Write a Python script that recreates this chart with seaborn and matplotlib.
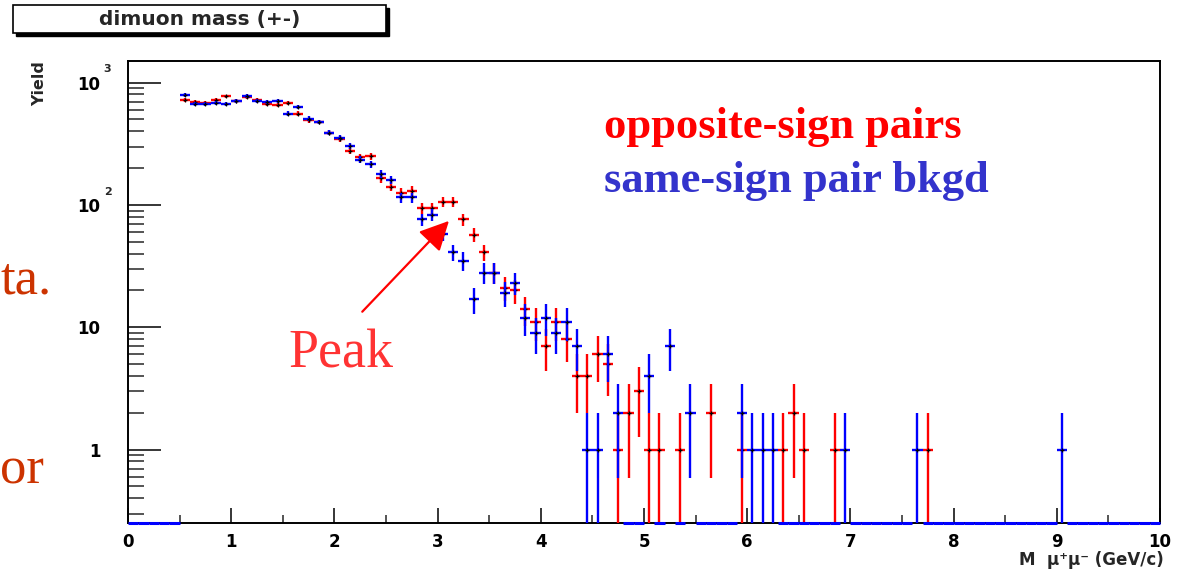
import numpy as np
import pandas as pd
import matplotlib
matplotlib.use("Agg")
import matplotlib.pyplot as plt
import seaborn as sns
from matplotlib.patches import Rectangle
from matplotlib.ticker import FixedLocator, LogLocator, NullFormatter, MultipleLocator

# ---------------- data ----------------
os_mass = [0.55, 0.65, 0.75, 0.85, 0.95, 1.05, 1.15, 1.25, 1.35, 1.45,
           1.55, 1.65, 1.75, 1.85, 1.95, 2.05, 2.15, 2.25, 2.35, 2.45,
           2.55, 2.65, 2.75, 2.85, 2.95, 3.05, 3.15, 3.25, 3.35, 3.45,
           3.55, 3.65, 3.75, 3.85, 3.95, 4.05, 4.15, 4.25, 4.35, 4.45,
           4.55, 4.65, 4.75, 4.85, 4.95, 5.05, 5.15, 5.35, 5.65, 5.95,
           6.35, 6.45, 6.55, 6.85, 7.75]
os_count = [726, 700, 680, 720, 770, 705, 760, 725, 673, 651,
            680, 557, 492, 476, 390, 348, 276, 247, 250, 165,
            141, 126, 130, 94, 94, 106, 106, 76, 57, 41,
            28, 21, 20, 14, 11, 7, 11, 8, 4, 4,
            6, 5, 1, 2, 3, 1, 1, 1, 2, 1,
            1, 2, 1, 1, 1]

ss_mass = [0.55, 0.65, 0.75, 0.85, 0.95, 1.05, 1.15, 1.25, 1.35, 1.45,
           1.55, 1.65, 1.75, 1.85, 1.95, 2.05, 2.15, 2.25, 2.35, 2.45,
           2.55, 2.65, 2.75, 2.85, 2.95, 3.05, 3.15, 3.25, 3.35, 3.45,
           3.55, 3.65, 3.75, 3.85, 3.95, 4.05, 4.15, 4.25, 4.35, 4.45,
           4.55, 4.65, 4.75, 5.05, 5.25, 5.45, 5.95, 6.05, 6.15, 6.25,
           6.95, 7.65, 9.05]
ss_count = [787, 673, 673, 680, 673, 703, 772, 706, 690, 703,
            557, 631, 507, 476, 390, 355, 305, 235, 215, 178,
            161, 115, 115, 76, 83, 58, 41, 35, 17, 28,
            28, 19, 23, 12, 9, 12, 9, 11, 7, 1,
            1, 6, 2, 4, 7, 2, 2, 1, 1, 1,
            1, 1, 1]

bin_width = 0.1
x_range = (0, 10)
y_range = (0.25, 1500)
xtick_values = list(range(0, 11))
xtick_labels = [str(v) for v in xtick_values]
ytick_values = [1, 10, 100, 1000]
ytick_labels = ["1", "10", "10", "10"]
ytick_sups = ["", "", "2", "3"]

title_text = "dimuon mass (+-)"
ylabel_text = "Yield"
xlabel_text = "M  \u03bc\u207a\u03bc\u207b (GeV/c)"
legend_os = "opposite-sign pairs"
legend_ss = "same-sign pair bkgd"
peak_text = "Peak"
peak_tip = (3.11, 74)
peak_tail = (2.27, 13.4)

# ---------------- style ----------------
sns.set_style("white")
plt.rcParams["font.family"] = ["DejaVu Sans"]
plt.rcParams["mathtext.fontset"] = "dejavusans"

W, H = 1182, 571
fig = plt.figure(figsize=(W / 100, H / 100), dpi=100)
fig.patch.set_facecolor("white")

ax_l, ax_r, ax_t, ax_b = 128, 1160, 61, 523.3
ax = fig.add_axes([ax_l / W, 1 - ax_b / H, (ax_r - ax_l) / W, (ax_b - ax_t) / H])
ax.set_facecolor("white")
ax.set_yscale("log")
ax.set_xlim(*x_range)
ax.set_ylim(*y_range)


def draw_series(mass, count, color, z):
    m = np.asarray(mass, float)
    n = np.asarray(count, float)
    err = np.sqrt(n)
    lo = np.maximum(n - err, 1e-3)
    ax.errorbar(m, n, xerr=bin_width / 2, yerr=[n - lo, err], fmt="none",
                ecolor=color, elinewidth=1.7, capsize=0, zorder=z)
    df = pd.DataFrame({"mass": m, "count": n})
    sns.scatterplot(data=df, x="mass", y="count", marker="+", color="black",
                    s=10, linewidth=0.9, ax=ax, zorder=z + 0.5, legend=False)


draw_series(os_mass, os_count, "#ff0000", 3)

# zero-content bins of the same-sign histogram drawn at the bottom edge
all_centers = np.round(np.arange(x_range[0] + bin_width / 2, x_range[1], bin_width), 2)
ss_set = set(np.round(ss_mass, 2))
zero_centers = [c for c in all_centers if c not in ss_set]
ax.hlines([y_range[0]] * len(zero_centers),
          np.array(zero_centers) - bin_width / 2, np.array(zero_centers) + bin_width / 2,
          colors="#0000ff", linewidth=2.2, zorder=6, clip_on=False)

draw_series(ss_mass, ss_count, "#0000ff", 5)

ax.set_xlabel("")
ax.set_ylabel("")

# spines
for s in ax.spines.values():
    s.set_color("black")
    s.set_linewidth(1.4)

# ticks
ax.xaxis.set_major_locator(FixedLocator(xtick_values))
ax.xaxis.set_minor_locator(MultipleLocator(0.5))
ax.set_xticklabels(xtick_labels, fontsize=12, fontweight="bold")
ax.yaxis.set_major_locator(FixedLocator(ytick_values))
ax.yaxis.set_minor_locator(LogLocator(base=10, subs=np.arange(2, 10)))
ax.yaxis.set_minor_formatter(NullFormatter())
ax.set_yticklabels(ytick_labels, fontsize=12, fontweight="bold")
ax.tick_params(axis="y", which="major", direction="in", length=23.5, width=1.1,
               left=True, right=False, pad=20, colors="black")
ax.tick_params(axis="y", which="minor", direction="in", length=11.5, width=1.1,
               left=True, right=False)
ax.tick_params(axis="x", which="major", direction="in", length=10.8, width=1.1,
               bottom=True, top=False, pad=7, colors="black")
ax.tick_params(axis="x", which="minor", direction="in", length=5.8, width=1.1,
               bottom=True, top=False)

for v, sup in zip(ytick_values, ytick_sups):
    if sup:
        ax.annotate(sup, xy=(0, v), xycoords=("axes fraction", "data"),
                    xytext=(-17.5, 9.5), textcoords="offset points",
                    fontsize=8, fontweight="bold", ha="left", va="center")

# axis titles
fig.text(40 / W, 1 - ax_t / H, ylabel_text, rotation=90, ha="center", va="top",
         fontsize=11.5, fontweight="bold")
fig.text(1164 / W, 1 - 560 / H, xlabel_text, ha="right", va="center",
         fontsize=12, fontweight="bold")

# title box with shadow
bx0, bx1, by0, by1 = 13, 386, 5, 33
fig.patches.append(Rectangle(((bx0 + 3) / W, 1 - (by1 + 3) / H), (bx1 - bx0) / W, (by1 - by0) / H,
                             transform=fig.transFigure, facecolor="black", edgecolor="black",
                             linewidth=1.0, zorder=1))
fig.patches.append(Rectangle((bx0 / W, 1 - by1 / H), (bx1 - bx0) / W, (by1 - by0) / H,
                             transform=fig.transFigure, facecolor="white", edgecolor="black",
                             linewidth=1.2, zorder=2))
fig.text((bx0 + bx1) / 2 / W, 1 - (by0 + by1) / 2 / H, title_text, ha="center", va="center",
         fontsize=14.5, fontweight="bold", zorder=3)

# legend-like labels
fig.text(604 / W, 1 - 138 / H, legend_os, color="#ff0000", fontsize=32, fontweight="bold",
         family="Liberation Serif", va="baseline", ha="left")
fig.text(604 / W, 1 - 192 / H, legend_ss, color="#3333cc", fontsize=32, fontweight="bold",
         family="Liberation Serif", va="baseline", ha="left")

# peak annotation
fig.text(288 / W, 1 - 367 / H, peak_text, color="#ff3333", fontsize=39,
         family="Liberation Serif", va="baseline", ha="left")
ax.annotate("", xy=peak_tip, xytext=peak_tail, xycoords="data", textcoords="data",
            arrowprops=dict(arrowstyle="-|>", color="#ff0000", lw=1.6,
                            mutation_scale=45, shrinkA=0, shrinkB=0), zorder=8)

# slide text cut at the left edge
fig.text(52 / W, 1 - 293 / H, "ta.", color="#cc3300", fontsize=38,
         family="Liberation Serif", va="baseline", ha="right")
fig.text(44 / W, 1 - 483 / H, "or", color="#cc3300", fontsize=38,
         family="Liberation Serif", va="baseline", ha="right")

fig.savefig("out.png", dpi=100, facecolor="white")
